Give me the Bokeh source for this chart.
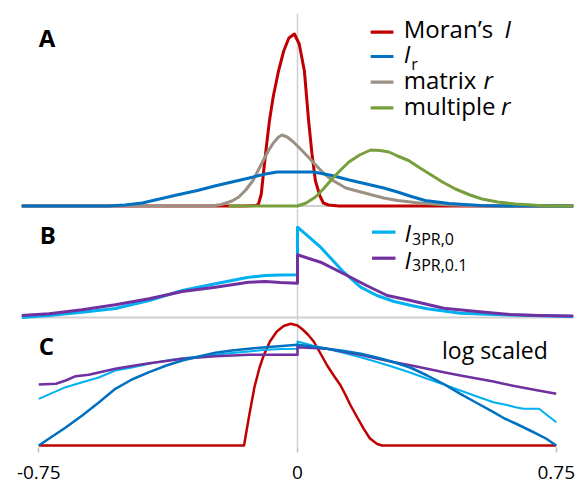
from bokeh.plotting import figure
from bokeh.layouts import column
from bokeh.models import Range1d, Span, Label, BoxAnnotation, FixedTicker
from bokeh.embed import file_html
from bokeh.resources import INLINE

FONT = "Open Sans"

# ---------------- data (x: statistic value, y: relative density) ----------------
# Panel A
moran_x = [-0.80, -0.155, -0.12, -0.113, -0.105, -0.098, -0.09, -0.081, -0.07, -0.055, -0.04, -0.025, -0.009,
           0.005, 0.02, 0.032, 0.042, 0.052, 0.065, 0.075, 0.09, 0.12, 0.80]
moran_y = [0, 0, 0.5, 2, 12, 35, 60, 86, 110, 135, 155, 168, 172, 162, 135, 86, 52, 25, 10, 3, 1, 0, 0]

ir_x = [-0.80, -0.55, -0.50, -0.45, -0.40, -0.35, -0.29, -0.24, -0.19, -0.14, -0.093, -0.059, 0.047, 0.10,
        0.15, 0.20, 0.25, 0.29, 0.33, 0.37, 0.44, 0.53, 0.60, 0.80]
ir_y = [0, 0, 1, 3, 7, 11, 15.5, 20, 24, 28, 32, 34, 34, 30.5, 26, 22, 18, 14, 9.5, 5.5, 2.5, 0.5, 0, 0]

matrix_x = [-0.80, -0.25, -0.22, -0.19, -0.17, -0.15, -0.13, -0.115, -0.10, -0.085, -0.07, -0.055, -0.045,
            -0.03, -0.015, 0.0, 0.02, 0.05, 0.075, 0.10, 0.14, 0.20, 0.25, 0.29, 0.34, 0.39, 0.45, 0.50, 0.60, 0.80]
matrix_y = [0, 0, 1.5, 5, 9, 16, 25, 35, 45, 55, 63, 69, 71, 69, 65, 60, 53, 42, 33, 26, 18, 12.5, 8, 5.5,
            3.5, 2, 1, 0.5, 0, 0]

multiple_x = [-0.20, 0.0, 0.025, 0.052, 0.075, 0.10, 0.125, 0.149, 0.18, 0.212, 0.24, 0.265, 0.29, 0.322,
              0.355, 0.39, 0.42, 0.458, 0.50, 0.535, 0.58, 0.632, 0.68, 0.72, 0.80]
multiple_y = [0, 0, 3, 9, 17, 27, 36, 44, 51, 56, 55.5, 54, 50, 45.5, 38, 30.5, 24, 17, 11, 7, 4, 2, 1, 0, 0]

# Panel B
i3pr0_x = [-0.80, -0.72, -0.624, -0.528, -0.43, -0.334, -0.238, -0.142, -0.093, -0.05, 0.0, 0.0, 0.067,
           0.134, 0.183, 0.23, 0.28, 0.33, 0.376, 0.472, 0.568, 0.68, 0.80]
i3pr0_y = [0, 2, 5.3, 9, 17, 27, 33.7, 40.3, 42, 42.5, 42.7, 90.3, 70.3, 45.3, 30.3, 22, 16, 12, 8.7, 4.3,
           3, 2, 1]

i3pr01_x = [-0.80, -0.72, -0.624, -0.528, -0.43, -0.334, -0.238, -0.142, -0.093, -0.05, 0.0, 0.0, 0.067,
            0.144, 0.20, 0.26, 0.328, 0.424, 0.52, 0.617, 0.70, 0.80]
i3pr01_y = [2, 3.7, 7.7, 12.7, 18.7, 26, 30.3, 35.3, 36, 35, 34.3, 62.7, 55.3, 42, 32, 22, 17, 9.3, 6, 3,
            2, 1.5]

# Panel C (log scaled)
log_moran_x = [-0.75, -0.155, -0.14, -0.125, -0.11, -0.098, -0.08, -0.06, -0.04, -0.02, 0.0, 0.015, 0.03,
               0.047, 0.065, 0.086, 0.105, 0.125, 0.14, 0.154, 0.175, 0.192, 0.21, 0.231, 0.245, 0.75]
log_moran_y = [0, 0, 30, 58, 78, 90, 104, 114, 119.5, 121.7, 120, 116, 111, 104, 93, 80, 70, 60, 50, 40,
               27, 16.7, 7, 1.5, 0, 0]

log_ir_x = [-0.75, -0.672, -0.624, -0.576, -0.528, -0.48, -0.43, -0.38, -0.334, -0.286, -0.238, -0.19,
            -0.141, -0.093, -0.045, 0.0, 0.043, 0.086, 0.135, 0.183, 0.23, 0.28, 0.33, 0.376, 0.424, 0.472,
            0.52, 0.568, 0.60, 0.632, 0.68, 0.72, 0.75]
log_ir_y = [0, 18, 30, 43, 56.7, 66, 73.3, 80, 85, 89, 92.7, 95, 96.7, 98.3, 99.5, 100.7, 99, 96.7, 94.5,
            91.7, 88, 83.3, 77.5, 70, 61.5, 51.7, 42.5, 33.3, 27, 22, 14, 7, 0]

log_i3pr0_x = [-0.75, -0.672, -0.624, -0.576, -0.528, -0.48, -0.43, -0.38, -0.334, -0.286, -0.238, -0.19,
               -0.141, -0.093, -0.045, 0.0, 0.0, 0.043, 0.086, 0.135, 0.183, 0.23, 0.28, 0.33, 0.376, 0.424,
               0.472, 0.52, 0.568, 0.60, 0.632, 0.655, 0.70, 0.725, 0.75]
log_i3pr0_y = [46.7, 58.3, 63.3, 68, 75, 78, 81.7, 85, 87.3, 89, 90.7, 92.5, 94, 95.7, 96.5, 96.7, 104, 100,
               96.7, 92.5, 88.3, 83.5, 78.3, 72.5, 66.7, 61, 55, 49, 43.3, 41, 38.3, 36.7, 36.7, 30, 23.3]

log_i3pr01_x = [-0.75, -0.70, -0.672, -0.643, -0.605, -0.576, -0.528, -0.48, -0.43, -0.38, -0.334, -0.286,
                -0.238, -0.19, -0.141, -0.093, 0.0, 0.0, 0.043, 0.086, 0.135, 0.183, 0.23, 0.28, 0.33, 0.376,
                0.424, 0.472, 0.52, 0.568, 0.60, 0.632, 0.69, 0.75]
log_i3pr01_y = [61, 61.7, 65, 69.3, 70.7, 73, 76.7, 79.5, 82.3, 84.5, 86.7, 88, 89.3, 90, 90.7, 90.7, 90.7,
                98.3, 97.5, 96.7, 93.7, 90.7, 87, 83.3, 80, 76.7, 73.3, 70, 67, 64, 61.5, 59.3, 55.5, 51.7]

tick_values = [-0.75, 0, 0.75]
tick_labels = ["-0.75", "0", "0.75"]

RED = "#C00000"
BLUE = "#0070C0"
GRAY = "#9A9184"
GREEN = "#77A03C"
LBLUE = "#00B0F0"
PURPLE = "#7030A0"
AXIS = "#CFCFCF"

x_range = Range1d(-0.8, 0.8)


def make(frame_h, top, bottom, y0, y1, axis=False):
    p = figure(frame_width=552, frame_height=frame_h, x_range=x_range, y_range=Range1d(y0, y1),
               output_backend="svg", toolbar_location=None,
               x_axis_location="below" if axis else None, y_axis_location=None,
               min_border_left=21, min_border_right=10, min_border_top=top, min_border_bottom=bottom)
    p.outline_line_color = None
    p.grid.visible = False
    p.background_fill_color = "white"
    p.border_fill_color = "white"
    p.add_layout(Span(location=0, dimension="height", line_color=AXIS, line_width=1.5, level="underlay"))
    return p


def txt(p, x, y, s, size=24, style="normal"):
    # y is the intended baseline; shift compensates the renderer's baseline placement
    p.add_layout(Label(x=x, y=y + 0.42 * size, text=s, text_font=FONT, text_font_size=f"{size}px",
                       text_font_style=style, text_color="black", text_baseline="alphabetic",
                       text_align="left"))


def swatch(p, x0, x1, y, color, half):
    p.add_layout(BoxAnnotation(left=x0, right=x1, bottom=y - half, top=y + half, fill_color=color,
                               fill_alpha=1, line_color=None, level="overlay"))


# ---------------- Panel A ----------------
pa = make(195, 13, 0, -2.5, 192.5)
pa.add_layout(Span(location=0, dimension="width", line_color=AXIS, line_width=2, level="underlay"))
pa.line(moran_x, moran_y, line_color=RED, line_width=3, line_join="round")
pa.line(matrix_x, matrix_y, line_color=GRAY, line_width=3, line_join="round")
pa.line(ir_x, ir_y, line_color=BLUE, line_width=3, line_join="round")
pa.line(multiple_x, multiple_y, line_color=GREEN, line_width=3, line_join="round")

txt(pa, -0.75, 158.5, "A", size=24, style="bold")
for yy, c in zip([173.8, 149.5, 123.8, 98.2], [RED, BLUE, GRAY, GREEN]):
    swatch(pa, 0.212, 0.278, yy, c, 1.6)
txt(pa, 0.308, 167, "Moran’s")
txt(pa, 0.600, 167, "I", style="italic")
txt(pa, 0.308, 142.5, "I", style="italic")
txt(pa, 0.330, 135.5, "r", size=16)
txt(pa, 0.308, 116.2, "matrix")
txt(pa, 0.539, 116.2, "r", style="italic")
txt(pa, 0.308, 90.5, "multiple")
txt(pa, 0.590, 90.5, "r", style="italic")

# ---------------- Panel B ----------------
pb = make(112, 0, 0, -3, 109)
pb.add_layout(Span(location=0, dimension="width", line_color=AXIS, line_width=2, level="underlay"))
pb.line(i3pr0_x, i3pr0_y, line_color=LBLUE, line_width=3, line_join="round")
pb.line(i3pr01_x, i3pr01_y, line_color=PURPLE, line_width=3, line_join="round")

txt(pb, -0.747, 72.7, "B", size=24, style="bold")
swatch(pb, 0.216, 0.284, 85.3, LBLUE, 1.6)
swatch(pb, 0.216, 0.284, 59.3, PURPLE, 1.6)
txt(pb, 0.310, 74.7, "I", style="italic")
txt(pb, 0.332, 72.0, "3PR,0", size=16)
txt(pb, 0.310, 48.0, "I", style="italic")
txt(pb, 0.332, 45.3, "3PR,0.1", size=16)

# ---------------- Panel C ----------------
pc = make(127, 0, 38, -2, 125, axis=True)
pc.line(log_moran_x, log_moran_y, line_color=RED, line_width=2.5, line_join="round")
pc.line(log_i3pr0_x, log_i3pr0_y, line_color=LBLUE, line_width=2, line_join="round")
pc.line(log_i3pr01_x, log_i3pr01_y, line_color=PURPLE, line_width=2.5, line_join="round")
pc.line(log_ir_x, log_ir_y, line_color=BLUE, line_width=2.5, line_join="round")

txt(pc, -0.75, 90, "C", size=24, style="bold")
txt(pc, 0.419, 86, "log scaled", size=23)

ax = pc.xaxis[0]
ax.ticker = FixedTicker(ticks=tick_values)
ax.major_label_overrides = {v: s for v, s in zip(tick_values, tick_labels)}
ax.axis_line_color = None
ax.major_tick_in = 0
ax.major_tick_out = 5
ax.major_tick_line_color = "#BFBFBF"
ax.major_tick_line_width = 1.5
ax.minor_tick_line_color = None
ax.major_label_text_font = FONT
ax.major_label_text_font_size = "19px"
ax.major_label_text_color = "black"
ax.major_label_standoff = 13

layout = column(pa, pb, pc, spacing=0)
open("out.html", "w").write(file_html(layout, INLINE))
